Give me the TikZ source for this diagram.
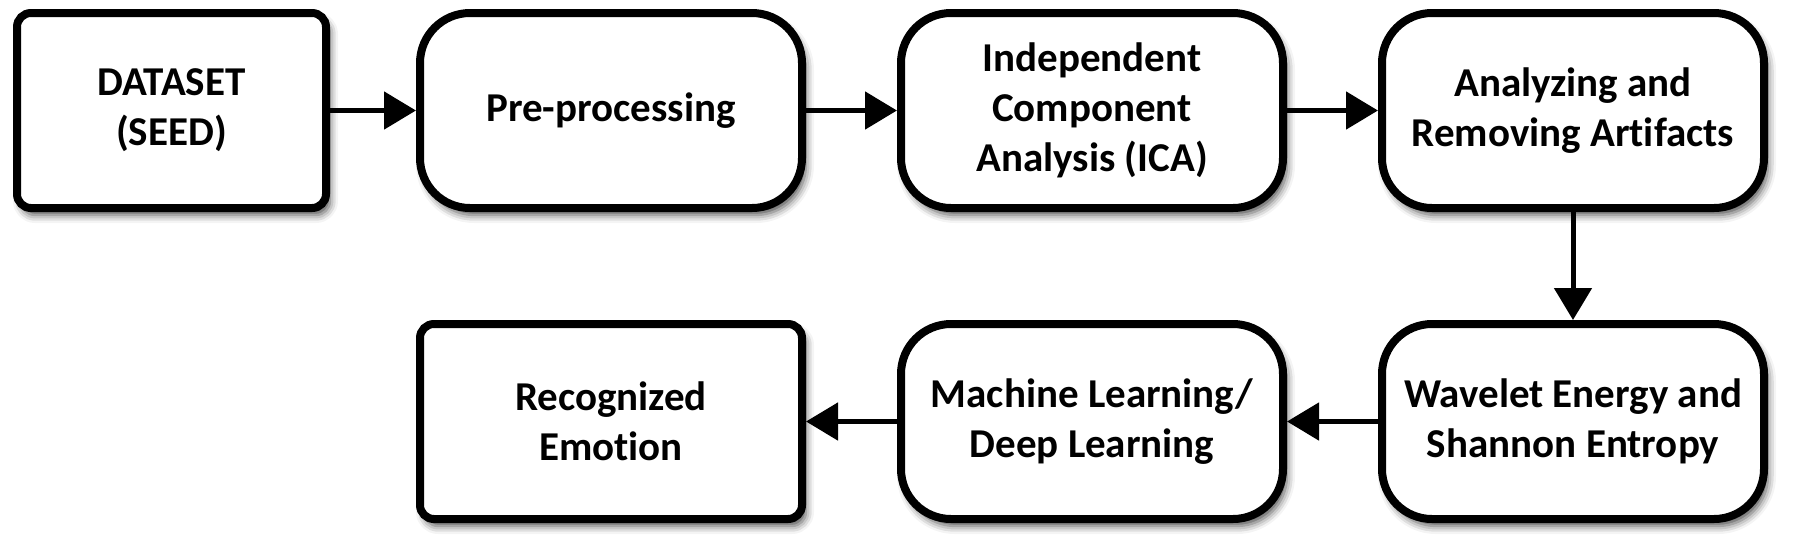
\documentclass[tikz,border=0pt]{standalone}
\usepackage{fontspec}
\setmainfont{Carlito}[RawFeature=-liga]
\usetikzlibrary{arrows.meta,shadows.blur}
\begin{document}
\begin{tikzpicture}[x=0.5pt,y=-0.5pt,
  box/.style={draw=black, line width=4pt, fill=white, align=center,
    font=\bfseries\fontsize{20.5}{25}\selectfont, inner sep=0pt,
    blur shadow={shadow xshift=2pt, shadow yshift=-3.5pt, shadow blur radius=4pt, shadow opacity=70}},
  sqbox/.style={box, rounded corners=7pt, minimum width=154.5pt, minimum height=97.5pt},
  rdbox/.style={box, rounded corners=25pt, minimum width=191pt, minimum height=97.5pt},
  flow/.style={line width=2.5pt, -{Triangle[length=16pt,width=18.5pt]}}]
\useasboundingbox (0,0) rectangle (1800,553);
\node[sqbox] (ds) at (171.5,110.5) {DATASET\\(SEED)};
\node[rdbox] (pre) at (611,110.5) {Pre-processing};
\node[rdbox] (ica) at (1092,110.5) {Independent\\Component\\Analysis (ICA)};
\node[rdbox] (ana) at (1573,110.5) {Analyzing and\\Removing Artifacts};
\node[rdbox] (wav) at (1573,421.5) {Wavelet Energy and\\Shannon Entropy};
\node[rdbox] (ml) at (1092,421.5) {Machine Learning/\\Deep Learning};
\node[sqbox, minimum width=191pt] (rec) at (611,421.5) {Recognized\\Emotion};
\draw[flow] (ds) -- (pre);
\draw[flow] (pre) -- (ica);
\draw[flow] (ica) -- (ana);
\draw[flow] (ana) -- (wav);
\draw[flow] (wav) -- (ml);
\draw[flow] (ml) -- (rec);
\end{tikzpicture}
\end{document}
